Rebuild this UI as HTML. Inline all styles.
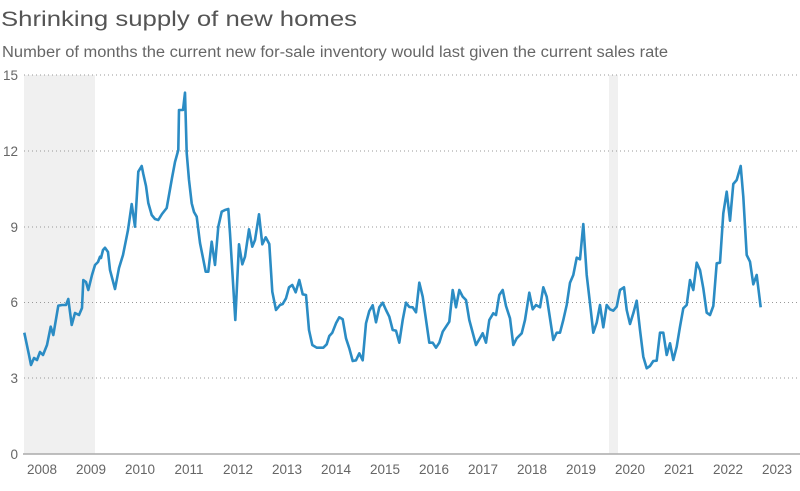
<!DOCTYPE html>
<html><head><meta charset="utf-8"><style>
body{margin:0;background:#fff;width:800px;height:486px;overflow:hidden;font-family:"Liberation Sans",sans-serif}
</style></head><body>
<svg width="800" height="486" xmlns="http://www.w3.org/2000/svg" font-family="Liberation Sans, sans-serif">
<text x="1" y="26" font-size="21" fill="#555" textLength="356" lengthAdjust="spacingAndGlyphs">Shrinking supply of new homes</text>
<text x="2" y="57" font-size="15.5" fill="#666" textLength="666" lengthAdjust="spacingAndGlyphs">Number of months the current new for-sale inventory would last given the current sales rate</text>
<rect x="24" y="75" width="71" height="379" fill="#f0f0f0"/>
<rect x="609" y="75" width="9" height="379" fill="#f0f0f0"/>
<g stroke="#999" stroke-width="1" stroke-dasharray="1,3">
<line x1="24" x2="800" y1="75" y2="75"/><line x1="24" x2="800" y1="151" y2="151"/>
<line x1="24" x2="800" y1="227" y2="227"/><line x1="24" x2="800" y1="302.5" y2="302.5"/>
<line x1="24" x2="800" y1="378" y2="378"/>
</g>
<line x1="23" x2="800" y1="454" y2="454" stroke="#aaa" stroke-width="1.5"/>
<g font-size="13.5" fill="#666" text-anchor="end">
<text x="18" y="80">15</text><text x="18" y="156">12</text><text x="18" y="232">9</text>
<text x="18" y="307">6</text><text x="18" y="383">3</text><text x="18" y="459">0</text>
</g>
<g font-size="13.5" fill="#666" text-anchor="middle">
<text x="42" y="474">2008</text><text x="91" y="474">2009</text><text x="140" y="474">2010</text>
<text x="189" y="474">2011</text><text x="238" y="474">2012</text><text x="287" y="474">2013</text>
<text x="336" y="474">2014</text><text x="385" y="474">2015</text><text x="434" y="474">2016</text>
<text x="483" y="474">2017</text><text x="532" y="474">2018</text><text x="581" y="474">2019</text>
<text x="630" y="474">2020</text><text x="679" y="474">2021</text><text x="728" y="474">2022</text>
<text x="777" y="474">2023</text>
</g>
<polyline fill="none" stroke="#2b8cc4" stroke-width="2.6" stroke-linejoin="round" points="
24.3,332.7 29,355 31,365 34,358 37,360 40,352 43,355 47,345 50.7,326.7 53.3,335 58.3,305.7 62,305 66,305 68.3,299 71.7,325 75,313 79,315 82,308 83.3,280 86,282 88.3,290 92,275 95,265 98,262 100,256.7 101,258 103,250 105,247.7 108,252 110,270 115,289 119,268 123,255 128,230 131.7,204 135,226.7 138.3,171.7 141.7,166 143.3,174 146,186 148.3,203 151.7,215 155,219 158.3,220 162,214 166.7,208 169,195 172,178 175,162 178.3,150 179,110 183,110 185,92.7 186.7,153 189,180 191.7,203.3 194,212 196.7,216.7 200,243 203,258 205.7,271.7 208.3,271.7 211.7,241.7 215,265 218.3,226.7 221.7,211.7 225,210 228.3,209 230,233.3 235.3,320 239,244.3 242.3,264.3 245,256.7 249,229.3 252.3,246.7 255,240 259,214.3 262.3,244.3 265.7,237.3 269.3,244 272.3,291.7 276,310 280,305 282.7,304 286,298.3 289,287.3 292.3,285 295.7,292.3 299.3,280 302.7,294.3 306,295 309,330 312.3,345 316.7,347.7 323.3,347.7 326.7,344.3 329.3,336 332.3,332.7 336,323.3 339.3,317.3 342.7,319.3 346,338.3 349.3,348.3 352.7,361 356,360.3 359.3,353.3 362.7,360.3 366,323.3 369.3,311 372.7,305.3 376,322.3 379.3,307.3 382.7,302.7 386,310 389.3,316.7 392.7,330 396,330.7 399.3,342.7 402.7,320 406,302.7 409.3,307 412.7,307.3 416,312.3 419.3,282.7 422.7,296.7 429.3,342.7 432.7,342.7 436,347.7 439.3,342.7 442.7,331.7 446,326.7 449.3,321.7 452.7,290 456,307.3 459.3,290 462.7,296.7 466,300 469.3,320 476,345 482.7,333.3 486,342.7 489.3,320 493.3,313.3 496,315 499.3,295 502.7,290 506,306 510,318.3 513.3,345 516.7,338.3 521.7,333.3 525,320 529.3,292.7 532.7,309.3 536,305 540,307.3 543.3,287.3 546.7,296.7 553.3,340 556.7,332.7 560,332.7 563.3,320 566.7,305 570,282.7 573.3,275 576.7,257.7 580,259.3 583.3,224 586.7,275 590,303.3 593.3,332.7 596.7,322.7 600,305 603.3,327.3 606.7,305 610,309.3 613.3,310.7 616.7,306.7 620,290 624,287.3 626.7,310 630,324 633.3,313.3 636.7,300.7 640,330 643.3,356.7 646.7,368.3 650,366 653.3,361 656.7,360.7 660,332.7 663.3,332.7 666.7,355 670,343.3 673.3,360 676.7,346.7 680,326.7 683.3,308.3 686.7,305 690,280 693.3,290 696.7,262.7 700,270 703.3,288.3 706.7,312.7 710,315 713.3,306 716.7,263.3 720,262.7 723.3,213.3 726.7,191.7 730,220.7 733.3,184 736.7,180 740.7,166 743.3,196.7 746.7,255 750,261.7 753.3,284.3 756.7,275 760.7,307.3"/>
</svg>
</body></html>
